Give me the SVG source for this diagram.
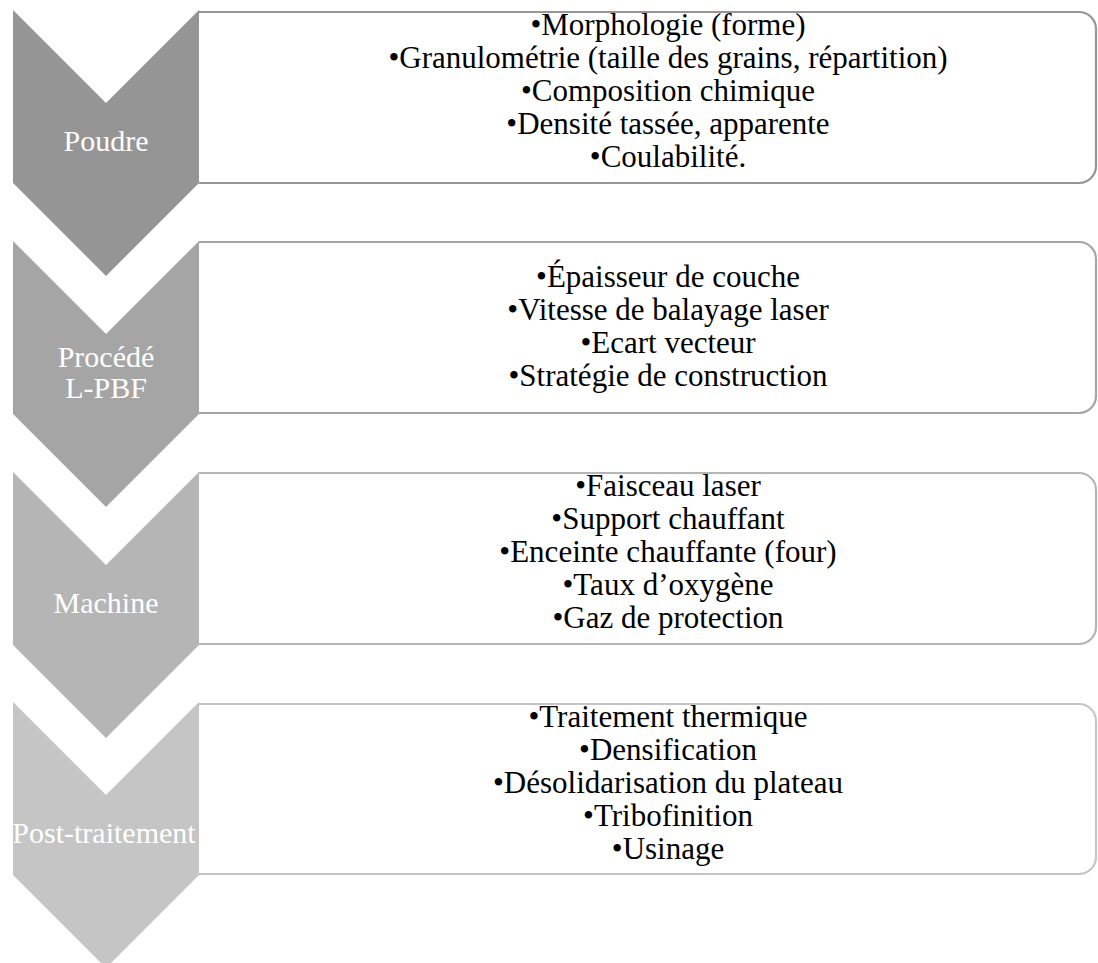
<svg xmlns="http://www.w3.org/2000/svg" width="1098" height="963" viewBox="0 0 1098 963">
  <style>
    .lbl { font-family: "Liberation Serif", "Times New Roman", serif; font-size: 30px; fill: #ffffff; text-anchor: middle; }
    .item { font-family: "Liberation Serif", "Times New Roman", serif; font-size: 31px; fill: #000000; text-anchor: middle; }
    .box { fill: #ffffff; stroke-width: 2.2; }
  </style>
  <defs>
    <path id="chev" d="M13,0 L106,93 L199,0 L199,173 L106,266 L13,173 Z"/>
  </defs>
  <rect width="1098" height="963" fill="#ffffff"/>
  <g id="connectors"></g>

  <g id="node-poudre">
    <use href="#chev" transform="translate(0,10)" fill="#959595"/>
    <path class="box" stroke="#959595" d="M199,12 H1079 A17,17 0 0 1 1096,29 V166 A17,17 0 0 1 1079,183 H199"/>
    <text class="lbl" x="106" y="151">Poudre</text>
    <text class="item" x="668" y="35">•Morphologie (forme)</text>
    <text class="item" x="668" y="68">•Granulométrie (taille des grains, répartition)</text>
    <text class="item" x="668" y="101">•Composition chimique</text>
    <text class="item" x="668" y="134">•Densité tassée, apparente</text>
    <text class="item" x="668" y="167">•Coulabilité.</text>
  </g>

  <g id="node-procede">
    <use href="#chev" transform="translate(0,241)" fill="#a5a5a5"/>
    <path class="box" stroke="#a5a5a5" d="M199,242 H1079 A17,17 0 0 1 1096,259 V396 A17,17 0 0 1 1079,413 H199"/>
    <text class="lbl" x="106" y="367">Procédé</text>
    <text class="lbl" x="106" y="398">L-PBF</text>
    <text class="item" x="668" y="287">•Épaisseur de couche</text>
    <text class="item" x="668" y="320">•Vitesse de balayage laser</text>
    <text class="item" x="668" y="353">•Ecart vecteur</text>
    <text class="item" x="668" y="386">•Stratégie de construction</text>
  </g>

  <g id="node-machine">
    <use href="#chev" transform="translate(0,472)" fill="#b5b5b5"/>
    <path class="box" stroke="#b5b5b5" d="M199,473 H1079 A17,17 0 0 1 1096,490 V627 A17,17 0 0 1 1079,644 H199"/>
    <text class="lbl" x="106" y="613">Machine</text>
    <text class="item" x="668" y="496">•Faisceau laser</text>
    <text class="item" x="668" y="529">•Support chauffant</text>
    <text class="item" x="668" y="562">•Enceinte chauffante (four)</text>
    <text class="item" x="668" y="595">•Taux d’oxygène</text>
    <text class="item" x="668" y="628">•Gaz de protection</text>
  </g>

  <g id="node-post">
    <use href="#chev" transform="translate(0,702)" fill="#c5c5c5"/>
    <path class="box" stroke="#c5c5c5" d="M199,704 H1079 A17,17 0 0 1 1096,721 V857 A17,17 0 0 1 1079,874 H199"/>
    <text class="lbl" x="104" y="843">Post-traitement</text>
    <text class="item" x="668" y="727">•Traitement thermique</text>
    <text class="item" x="668" y="760">•Densification</text>
    <text class="item" x="668" y="793">•Désolidarisation du plateau</text>
    <text class="item" x="668" y="826">•Tribofinition</text>
    <text class="item" x="668" y="859">•Usinage</text>
  </g>
</svg>
